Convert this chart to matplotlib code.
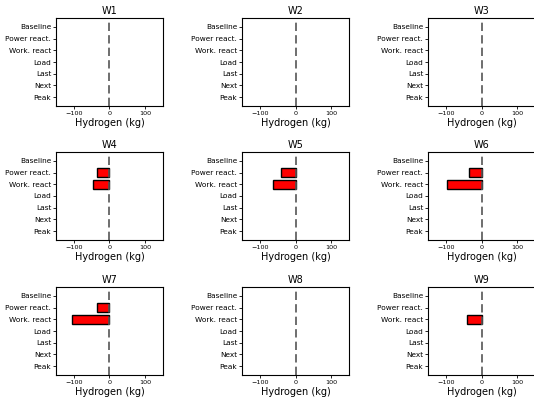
import matplotlib
matplotlib.use('Agg')
import matplotlib.pyplot as plt
import numpy as np

# scenario labels (top to bottom) and per-week hydrogen values (kg)
scenarios = ['Baseline', 'Power react.', 'Work. react', 'Load', 'Last', 'Next', 'Peak']
weeks = ['W1', 'W2', 'W3', 'W4', 'W5', 'W6', 'W7', 'W8', 'W9']

w1 = [0, 0, 0, 0, 0, 0, 0]
w2 = [0, 0, 0, 0, 0, 0, 0]
w3 = [0, 0, 0, 0, 0, 0, 0]
w4 = [0, -36, -46, 0, 0, 0, 0]
w5 = [0, -42, -64, 0, 0, 0, 0]
w6 = [0, -35, -96, 0, 0, 0, 0]
w7 = [0, -35, -104, 0, 0, 0, 0]
w8 = [0, 0, 0, 0, 0, 0, 0]
w9 = [0, 0, -42, 0, 0, 0, 0]
values = [w1, w2, w3, w4, w5, w6, w7, w8, w9]

fig = plt.figure(figsize=(5.34, 3.98), dpi=100)

lefts = [56 / 534, 242 / 534, 428 / 534]
bottoms = [292 / 398, 158 / 398, 23 / 398]
width = 107 / 534
height = 88 / 398

y_pos = np.arange(len(scenarios))

for idx, week in enumerate(weeks):
    r, c = divmod(idx, 3)
    ax = fig.add_axes([lefts[c], bottoms[r], width, height])
    vals = values[idx]
    nz = [i for i, v in enumerate(vals) if v != 0]
    if nz:
        ax.barh(y_pos[nz], [vals[i] for i in nz], height=0.8,
                color='red', edgecolor='black', linewidth=1.0)
    ax.axvline(0, color='#555555', linestyle=(0, (5, 2.5)), linewidth=1.2)
    ax.set_xlim(-150, 150)
    ax.set_ylim(len(scenarios) - 0.23, -0.77)
    ax.set_yticks(y_pos)
    ax.set_yticklabels(scenarios, fontsize=5.3)
    ax.set_xticks([-100, 0, 100])
    ax.tick_params(axis='x', labelsize=4.6, length=2, width=0.6, pad=1.5)
    ax.tick_params(axis='y', length=2, width=0.6, pad=1.5)
    ax.set_xlabel('Hydrogen (kg)', fontsize=7, labelpad=1.5)
    ax.set_title(week, fontsize=7, pad=3)
    for sp in ax.spines.values():
        sp.set_linewidth(0.8)

plt.savefig('out.png', dpi=100)
